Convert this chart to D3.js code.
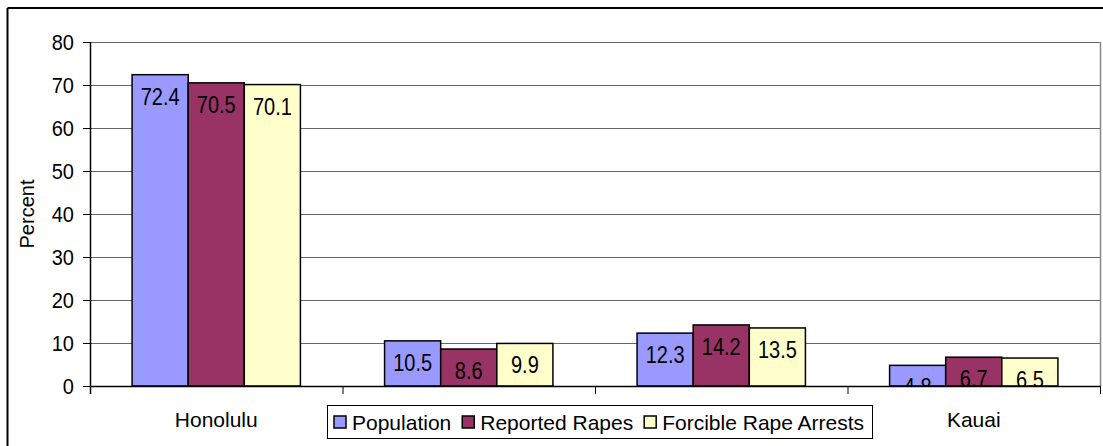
<!DOCTYPE html>
<html>
<head>
<meta charset="utf-8">
<script src="https://cdn.jsdelivr.net/npm/d3@7"></script>
<style>
  body { margin: 0; background: #fff; }
  text { font-family: Arial, "Liberation Sans", sans-serif; fill: #000; }
</style>
</head>
<body>
<div id="chart"></div>
<script>
// chart data
const counties = ["Honolulu", "Maui", "Hawaii", "Kauai"];
const seriesNames = ["Population", "Reported Rapes", "Forcible Rape Arrests"];
const population = [72.4, 10.5, 12.3, 4.8];
const reportedRapes = [70.5, 8.6, 14.2, 6.7];
const rapeArrests = [70.1, 9.9, 13.5, 6.5];
const yTicks = [0, 10, 20, 30, 40, 50, 60, 70, 80];
const colors = ["#9999ff", "#993366", "#ffffcc"];

const width = 1103, height = 446;
const plot = { left: 90, right: 1100, top: 42, bottom: 386 };
const legendBox = { x: 327.5, y: 405.5, w: 545, h: 33 };

const svg = d3.select("#chart").append("svg")
  .attr("width", width)
  .attr("height", height);

// outer chart frame (only top + left are inside the picture)
svg.append("line").attr("x1", 7.5).attr("x2", width).attr("y1", 8).attr("y2", 8)
  .attr("stroke", "#000").attr("stroke-width", 2);
svg.append("line").attr("x1", 7.5).attr("x2", 7.5).attr("y1", 8).attr("y2", height)
  .attr("stroke", "#000").attr("stroke-width", 2);

const x = d3.scaleBand().domain(counties).range([plot.left, plot.right]).paddingInner(0).paddingOuter(0);
const xInner = d3.scaleBand().domain(seriesNames).range([0, x.bandwidth()]).paddingInner(0).paddingOuter(0.75);
const y = d3.scaleLinear().domain([0, 80]).range([plot.bottom, plot.top]);

// gridlines
svg.append("g").selectAll("line").data(yTicks.slice(1)).join("line")
  .attr("x1", plot.left).attr("x2", plot.right)
  .attr("y1", d => y(d) + 0.5).attr("y2", d => y(d) + 0.5)
  .attr("stroke", "#666").attr("stroke-width", 1);

// plot area border (right side)
svg.append("line").attr("x1", plot.right + 0.5).attr("x2", plot.right + 0.5)
  .attr("y1", plot.top).attr("y2", plot.bottom)
  .attr("stroke", "#888").attr("stroke-width", 1.5);

svg.append("clipPath").attr("id", "plotClip").append("rect")
  .attr("x", plot.left).attr("y", plot.top)
  .attr("width", plot.right - plot.left).attr("height", plot.bottom - plot.top);

const rows = counties.map((c, i) => ({
  county: c,
  values: [population[i], reportedRapes[i], rapeArrests[i]]
}));

const groups = svg.append("g").selectAll("g").data(rows).join("g")
  .attr("transform", d => `translate(${x(d.county)},0)`);

groups.selectAll("rect").data(d => d.values.map((v, j) => ({ name: seriesNames[j], v, j }))).join("rect")
  .attr("x", d => xInner(d.name))
  .attr("y", d => y(d.v))
  .attr("width", xInner.bandwidth())
  .attr("height", d => y(0) - y(d.v))
  .attr("fill", d => colors[d.j])
  .attr("stroke", "#000")
  .attr("stroke-width", 1.5);

// value labels inside the bar top
const labelLayer = svg.append("g").attr("clip-path", "url(#plotClip)");
rows.forEach(r => {
  r.values.forEach((v, j) => {
    const cx = x(r.county) + xInner(seriesNames[j]) + xInner.bandwidth() / 2;
    labelLayer.append("text")
      .attr("transform", `translate(${cx},${y(v) + 30}) scale(1,1.17)`)
      .attr("text-anchor", "middle")
      .attr("font-size", 20)
      .text(v.toFixed(1));
  });
});

// axes lines
svg.append("line").attr("x1", plot.left).attr("x2", plot.right + 1)
  .attr("y1", plot.bottom + 0.5).attr("y2", plot.bottom + 0.5)
  .attr("stroke", "#000").attr("stroke-width", 1.5);
svg.append("line").attr("x1", plot.left + 0.5).attr("x2", plot.left + 0.5)
  .attr("y1", plot.top).attr("y2", plot.bottom + 8)
  .attr("stroke", "#000").attr("stroke-width", 1.5);

// y ticks and labels
svg.append("g").selectAll("line").data(yTicks).join("line")
  .attr("x1", plot.left - 7).attr("x2", plot.left)
  .attr("y1", d => y(d) + 0.5).attr("y2", d => y(d) + 0.5)
  .attr("stroke", "#000");
svg.append("g").selectAll("text").data(yTicks).join("text")
  .attr("transform", d => `translate(74,${y(d) + 8}) scale(1,1.1)`)
  .attr("text-anchor", "end")
  .attr("font-size", 20)
  .text(d => d);

svg.append("text")
  .attr("transform", "translate(34,214) rotate(-90)")
  .attr("text-anchor", "middle")
  .attr("font-size", 20)
  .text("Percent");

// x ticks at category boundaries
const bounds = counties.map(c => x(c)).concat([plot.right]);
svg.append("g").selectAll("line").data(bounds).join("line")
  .attr("x1", d => d + 0.5).attr("x2", d => d + 0.5)
  .attr("y1", plot.bottom).attr("y2", plot.bottom + 8)
  .attr("stroke", "#000");

// category labels; the legend sits over the middle two, so those are not drawn
const visibleLabels = counties.filter(c => {
  const cx = x(c) + x.bandwidth() / 2;
  return cx < legendBox.x || cx > legendBox.x + legendBox.w;
});
svg.append("g").selectAll("text").data(visibleLabels).join("text")
  .attr("x", d => x(d) + x.bandwidth() / 2)
  .attr("y", 427)
  .attr("text-anchor", "middle")
  .attr("font-size", 21)
  .text(d => d);

// legend
const legend = svg.append("g");
legend.append("rect")
  .attr("x", legendBox.x).attr("y", legendBox.y).attr("width", legendBox.w).attr("height", legendBox.h)
  .attr("fill", "#fff").attr("stroke", "#000").attr("stroke-width", 1);
let lx = 334;
seriesNames.forEach((name, j) => {
  legend.append("rect")
    .attr("x", lx).attr("y", 416).attr("width", 12).attr("height", 12)
    .attr("fill", colors[j]).attr("stroke", "#000").attr("stroke-width", 1.5);
  const t = legend.append("text")
    .attr("x", lx + 18).attr("y", 430)
    .attr("font-size", 21)
    .text(name);
  lx += 18 + t.node().getComputedTextLength() + 11;
});
</script>
</body>
</html>
